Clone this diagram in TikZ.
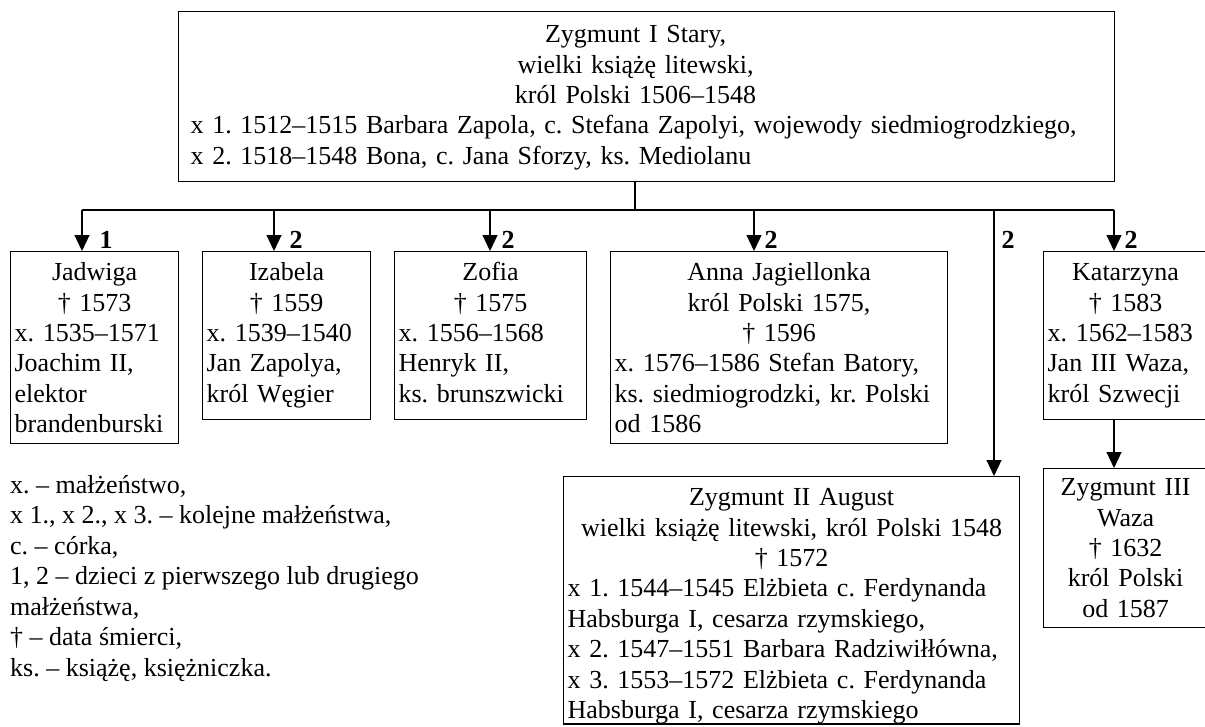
\documentclass[tikz,border=0pt]{standalone}
\usepackage{fontspec}
\setmainfont{Liberation Serif}
\usetikzlibrary{arrows.meta}
\setlength\parindent{0pt}
\frenchspacing
\newcommand\cl[2][\hsize]{\makebox[#1]{#2}}
\begin{document}
\begin{tikzpicture}[x=1pt,y=-1pt,
  box/.style={draw, line width=1.2pt, anchor=north west, inner xsep=4pt, inner ysep=0pt,
    align=left, font=\fontsize{26}{30.4}\selectfont\frenchspacing},
  first/.style={execute at begin node={\rule{0pt}{#1}}},
  dep/.style={execute at end node={\rule[-#1]{0pt}{#1}}},
  arr/.style={line width=1.2pt, -{Triangle[length=16pt,width=15pt]}},
  conn/.style={line width=1.2pt},
  num/.style={font=\fontsize{26}{30}\selectfont\bfseries, anchor=base, inner sep=0pt},
  legend/.style={anchor=north west, inner sep=0pt, align=left,
    font=\fontsize{26}{30.5}\selectfont\frenchspacing}]
\useasboundingbox (0,0) rectangle (1205,726);

\node[box, inner xsep=12pt, text width=912pt, first=31pt, dep=17pt] (top) at (178,11)
  {\cl[890pt]{Zygmunt I Stary,}\\ \cl[890pt]{wielki książę litewski,}\\ \cl[890pt]{król Polski 1506–1548}\\
   x 1. 1512–1515 Barbara Zapola, c. Stefana Zapolyi, wojewody siedmiogrodzkiego,\\
   x 2. 1518–1548 Bona, c. Jana Sforzy, ks. Mediolanu};

\node[box, text width=160pt, first=29pt, dep=11pt] (jad) at (10,251)
  {\cl{Jadwiga}\\ \cl{† 1573}\\ x. 1535–1571\\ Joachim II,\\ elektor\\ brandenburski};
\node[box, text width=160pt, first=29pt, dep=17.4pt] (iza) at (202,251)
  {\cl{Izabela}\\ \cl{† 1559}\\ x. 1539–1540\\ Jan Zapolya,\\ król Węgier};
\node[box, text width=184pt, first=29pt, dep=17.4pt] (zof) at (394,251)
  {\cl{Zofia}\\ \cl{† 1575}\\ x. 1556–1568\\ Henryk II,\\ ks. brunszwicki};
\node[box, text width=329pt, first=29pt, dep=11pt] (ann) at (610,251)
  {\cl{Anna Jagiellonka}\\ \cl{król Polski 1575,}\\ \cl{† 1596}\\ x. 1576–1586 Stefan Batory,\\ ks. siedmiogrodzki, kr. Polski\\ od 1586};
\node[box, text width=156pt, first=29pt, dep=17.4pt] (kat) at (1043,251)
  {\cl{Katarzyna}\\ \cl{† 1583}\\ x. 1562–1583\\ Jan III Waza,\\ król Szwecji};
\node[box, text width=156pt, first=27pt, dep=10.4pt] (z3) at (1043,468)
  {\cl{Zygmunt III}\\ \cl{Waza}\\ \cl{† 1632}\\ \cl{król Polski}\\ \cl{od 1587}};
\node[box, text width=448pt, first=29pt, dep=4.5pt] (z2) at (563,476)
  {\cl{Zygmunt II August}\\ \cl{wielki książę litewski, król Polski 1548}\\ \cl{† 1572}\\
   x 1. 1544–1545 Elżbieta c. Ferdynanda\\ Habsburga I, cesarza rzymskiego,\\
   x 2. 1547–1551 Barbara Radziwiłłówna,\\ x 3. 1553–1572 Elżbieta c. Ferdynanda\\
   Habsburga I, cesarza rzymskiego};

\node[legend, first=22pt] (leg) at (10,475)
  {x. – małżeństwo,\\ x 1., x 2., x 3. – kolejne małżeństwa,\\ c. – córka,\\
   1, 2 – dzieci z pierwszego lub drugiego\\ małżeństwa,\\ † – data śmierci,\\
   ks. – książę, księżniczka.};

\coordinate (bus) at (635,210);
\coordinate (aj) at (82,210);
\coordinate (ai) at (274,210);
\coordinate (azf) at (490,210);
\coordinate (aa) at (754,210);
\coordinate (az) at (994,210);
\coordinate (ak) at (1114,210);

\draw[conn] (top.south -| bus) -- (bus);
\draw[conn] (aj) -- (ak);
\draw[arr] (aj) -- (aj |- jad.north);
\draw[arr] (ai) -- (ai |- iza.north);
\draw[arr] (azf) -- (azf |- zof.north);
\draw[arr] (aa) -- (aa |- ann.north);
\draw[arr] (az) -- (az |- z2.north);
\draw[arr] (ak) -- (ak |- kat.north);
\draw[arr] (ak |- kat.south) -- (ak |- z3.north);

\node[num] (n1) at (106,248) {1};
\node[num] (n2) at (296,248) {2};
\node[num] (n3) at (508,248) {2};
\node[num] (n4) at (771,248) {2};
\node[num] (n5) at (1008,248) {2};
\node[num] (n6) at (1131,248) {2};
\end{tikzpicture}
\end{document}
